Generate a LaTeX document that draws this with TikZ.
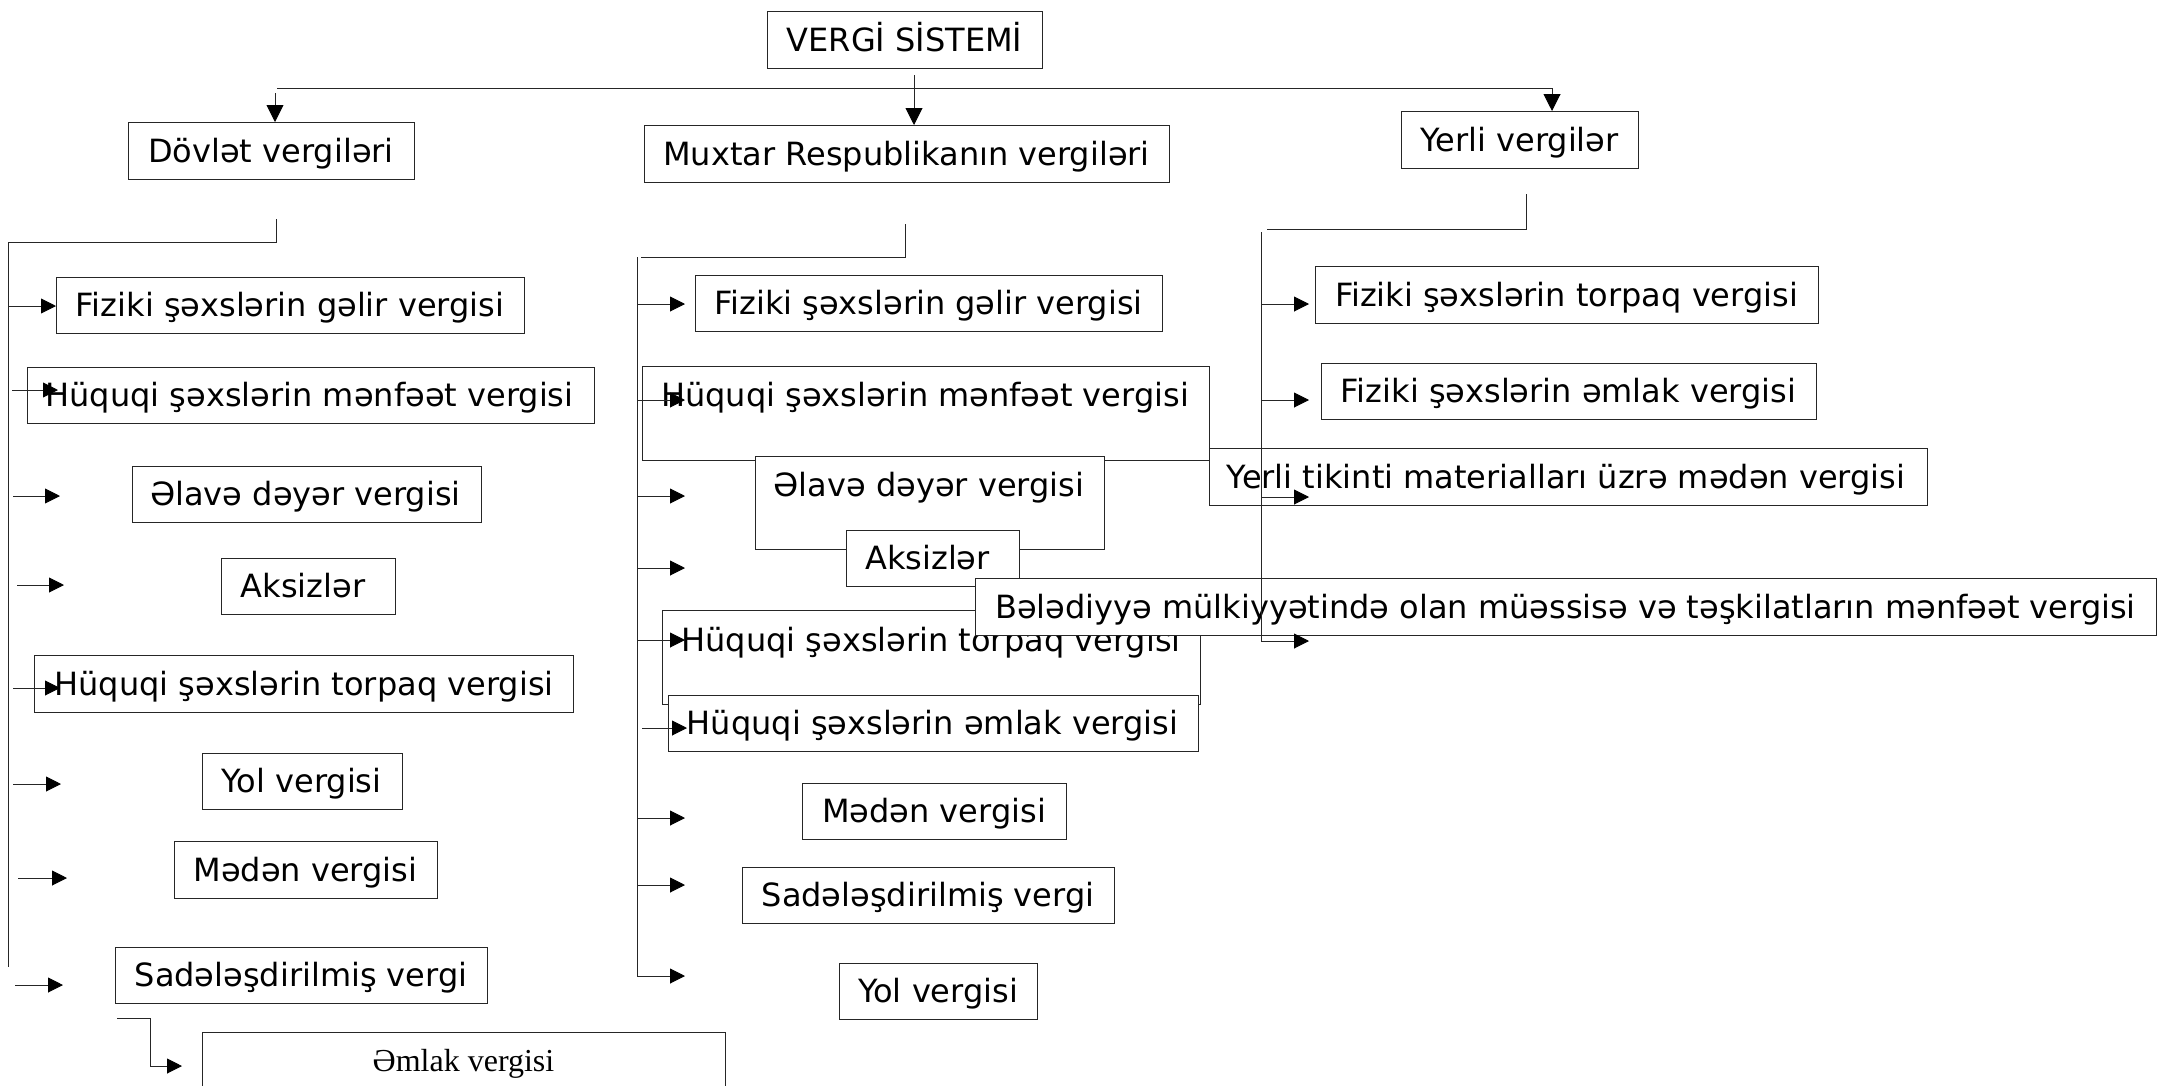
\documentclass[tikz,border=0pt]{standalone}
\usepackage{fontspec}
\setmainfont{DejaVu Sans}
\newfontfamily\serifT{Liberation Serif}
\usetikzlibrary{arrows.meta}
\newcommand\tbox[8]{%
  \node[bx,minimum width=#4pt,minimum height=#5pt] (#1) at (#2,#3) {};
  \node[tx,anchor=base] (#1t) at (#6,#7) {#8};}
\begin{document}
\begin{tikzpicture}[x=1pt,y=-1pt,
  bx/.style={draw=black!85,line width=1.1pt,fill=white,rectangle,inner sep=0pt,anchor=north west},
  tx/.style={inner sep=0pt,font=\fontsize{32}{38}\selectfont},
  ln/.style={line width=0.9pt,draw=black!85},
  ar/.style={ln,-{Triangle[length=15pt,width=15pt,color=black]}},
  tar/.style={ln,-{Triangle[length=17pt,width=17pt,color=black]}}]
\useasboundingbox[fill=white] (0,0) rectangle (2159,1085);

% top level
\tbox{vs}{767}{11}{275}{57}{904.5}{51}{VERGİ SİSTEMİ}
\tbox{dv}{128}{122}{286}{57}{271}{162}{Dövlət vergiləri}
\tbox{mx}{644}{125}{525}{57}{906.5}{165}{Muxtar Respublikanın vergiləri}
\tbox{yv}{1401}{111}{237}{57}{1519.5}{151}{Yerli vergilər}

% left column
\tbox{la}{56}{277}{468}{56}{290}{316.5}{Fiziki şəxslərin gəlir vergisi}
\tbox{lb}{27}{367}{567}{56}{309.5}{406.5}{Hüquqi şəxslərin mənfəət vergisi}
\tbox{lc}{132}{466}{349}{56}{305.5}{505.5}{Əlavə dəyər vergisi}
\tbox{ld}{221}{558}{174}{56}{303}{597.5}{Aksizlər}
\tbox{le}{34}{655}{539}{57}{304}{695}{Hüquqi şəxslərin torpaq vergisi}
\tbox{lf}{202}{753}{200}{56}{301.5}{792.5}{Yol vergisi}
\tbox{lg}{174}{841}{263}{57}{305.5}{881}{Mədən vergisi}
\tbox{lh}{115}{947}{372}{56}{301}{986.5}{Sadələşdirilmiş vergi}
\node[bx,minimum width=523pt,minimum height=70pt] (li) at (202,1032) {};
\node[inner sep=0pt,anchor=base,font=\serifT\fontsize{32}{36}\selectfont] (lit) at (463.5,1071) {Əmlak vergisi};

% middle column
\tbox{ma}{695}{275}{467}{56}{928.5}{314.5}{Fiziki şəxslərin gəlir vergisi}
\tbox{mb}{642}{366}{567}{94}{925}{406.5}{Hüquqi şəxslərin mənfəət vergisi}
% right column
\tbox{ra}{1315}{266}{503}{57}{1566.5}{306}{Fiziki şəxslərin torpaq vergisi}
\tbox{rb}{1321}{363}{495}{56}{1568.5}{402.5}{Fiziki şəxslərin əmlak vergisi}
\tbox{rc}{1209}{448}{718}{57}{1566}{488}{Yerli tikinti materialları üzrə mədən vergisi}
% middle column continued
\tbox{mc}{755}{456}{349}{93}{929}{496}{Əlavə dəyər vergisi}
\tbox{md}{846}{530}{173}{56}{927.5}{569.5}{Aksizlər}
\tbox{me}{662}{610}{538}{94}{931}{651.5}{Hüquqi şəxslərin torpaq vergisi}
\tbox{rd}{975}{578}{1181}{57}{1565.5}{618}{Bələdiyyə mülkiyyətində olan müəssisə və təşkilatların mənfəət vergisi}
\tbox{mf}{668}{695}{530}{56}{932.5}{734.5}{Hüquqi şəxslərin əmlak vergisi}
\tbox{mg}{802}{783}{264}{56}{934}{822.5}{Mədən vergisi}
\tbox{mh}{742}{867}{372}{56}{928}{906.5}{Sadələşdirilmiş vergi}
\tbox{mi}{839}{963}{198}{56}{938}{1002.5}{Yol vergisi}

% top connectors
\coordinate (h1) at (277,88);
\coordinate (h1s) at (275,93);
\coordinate (h2) at (914,75);
\coordinate (h3) at (1552,88);
\draw[ln] (h1) -- (h3);
\draw[tar] (h1s) -- (h1s |- dv.north);
\draw[tar] (h2) -- (h2 |- mx.north);
\draw[tar] (h3) -- (h3 |- yv.north);

% left bracket
\coordinate (lq1) at (276,219);
\coordinate (lq2) at (276,242);
\coordinate (lq3) at (8,242);
\coordinate (lq4) at (8,967);
\draw[ln] (lq1) -- (lq2) -- (lq3) -- (lq4);
\foreach \n/\xa/\xb/\yy in {1/8/56/306,2/12/58/390,3/13/60/496,4/17/64/585,5/13/60/688,6/13/61/784,7/18/67/878,8/15/63/985}{
  \coordinate (ls\n) at (\xa,\yy);
  \coordinate (le\n) at (\xb,\yy);
  \draw[ar] (ls\n) -- (le\n);
}
\coordinate (el1) at (117,1018);
\coordinate (el2) at (150,1018);
\coordinate (el3) at (150,1066);
\coordinate (el4) at (182,1066);
\draw[ar] (el1) -- (el2) -- (el3) -- (el4);

% middle bracket
\coordinate (mq1) at (905,224);
\coordinate (mq2) at (905,257);
\coordinate (mq3) at (641,257);
\coordinate (mq0) at (637,257);
\coordinate (mq4) at (637,976);
\draw[ln] (mq1) -- (mq2) -- (mq3);
\draw[ln] (mq0) -- (mq4);
\foreach \n/\xa/\xb/\yy in {1/637/685/304,2/637/685/400,3/637/685/496,4/637/685/568,5/637/685/640,6/642/687/728,7/637/685/818,8/637/685/885,9/637/685/976}{
  \coordinate (ms\n) at (\xa,\yy);
  \coordinate (me\n) at (\xb,\yy);
  \draw[ar] (ms\n) -- (me\n);
}

% right bracket
\coordinate (rq1) at (1526,194);
\coordinate (rq2) at (1526,229);
\coordinate (rq3) at (1267,229);
\coordinate (rq4) at (1261,232);
\coordinate (rq5) at (1261,641);
\draw[ln] (rq1) -- (rq2) -- (rq3);
\draw[ln] (rq4) -- (rq5);
\foreach \n/\yy in {1/304,2/400,3/497,4/641}{
  \coordinate (rs\n) at (1261,\yy);
  \coordinate (re\n) at (1309,\yy);
  \draw[ar] (rs\n) -- (re\n);
}
\end{tikzpicture}
\end{document}
